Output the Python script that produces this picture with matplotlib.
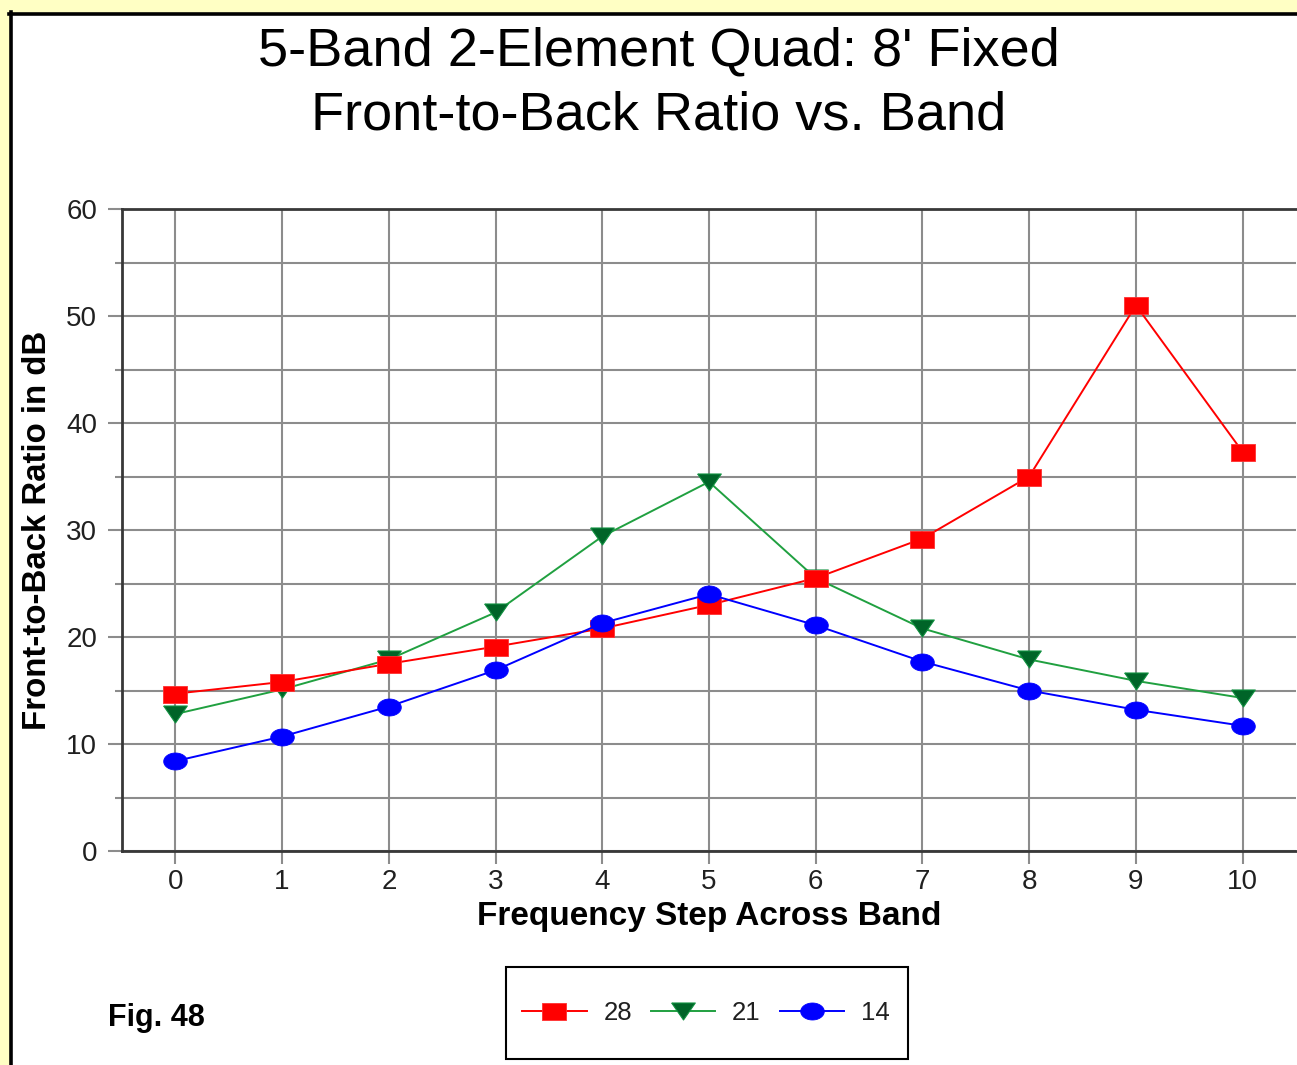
import numpy as np
import matplotlib
matplotlib.use('Agg')
import matplotlib.pyplot as plt
from matplotlib.lines import Line2D
from matplotlib.patches import Rectangle

# datos
steps = list(range(11))
ftb_28 = [14.7, 15.8, 17.5, 19.1, 20.8, 23.0, 25.5, 29.2, 35.0, 51.0, 37.3]
ftb_21 = [12.8, 15.1, 17.9, 22.3, 29.4, 34.5, 25.5, 20.8, 17.9, 15.9, 14.3]
ftb_14 = [8.4, 10.7, 13.5, 16.9, 21.3, 24.0, 21.1, 17.7, 15.0, 13.2, 11.7]
band_labels = ['28', '21', '14']

W, H = 1297, 1065
plt.rcParams['font.family'] = ['Liberation Sans', 'DejaVu Sans']

fig = plt.figure(figsize=(W/100, H/100), dpi=100, facecolor='#FFFFC4')

def fx(px):
    return px / W

def fy(py):
    return 1 - py / H

# fondo blanco con borde negro arriba e izquierda
fig.patches.append(Rectangle((fx(11), 0), 1, fy(14), transform=fig.transFigure,
                             facecolor='white', edgecolor='none', zorder=0))
fig.lines.append(Line2D([fx(10.5), fx(10.5)], [0, fy(12)], transform=fig.transFigure,
                        color='black', lw=2.6))
fig.lines.append(Line2D([fx(9), 1], [fy(14), fy(14)], transform=fig.transFigure,
                        color='black', lw=2.6))

ax = fig.add_axes([fx(122), fy(851), fx(1296) - fx(122), fy(209) - fy(851)])
ax.set_zorder(3)
ax.set_facecolor('white')

# marcadores un poco achatados
rect = [(-1, -0.72), (1, -0.72), (1, 0.72), (-1, 0.72), (-1, -0.72)]
tri = [(-1, 0.72), (1, 0.72), (0, -0.72), (-1, 0.72)]
t = np.linspace(0, 2*np.pi, 40)
ell = list(zip(np.cos(t), 0.72*np.sin(t)))

h28, = ax.plot(steps, ftb_28, color='#FF0000', lw=1.4, marker=rect, markersize=17,
               markerfacecolor='#FF0000', markeredgecolor='#FF3030', markeredgewidth=0.6, zorder=5)
h21, = ax.plot(steps, ftb_21, color='#20A040', lw=1.4, marker=tri, markersize=17,
               markerfacecolor='#006428', markeredgecolor='#109040', markeredgewidth=0.8, zorder=4)
h14, = ax.plot(steps, ftb_14, color='#0000FF', lw=1.4, marker=ell, markersize=17,
               markerfacecolor='#0000FF', markeredgecolor='#0000FF', markeredgewidth=0.6, zorder=6)

ax.set_xlim(-0.5, 10.5)
ax.set_ylim(0, 60)
ax.set_xticks(steps)
ax.set_yticks(np.arange(0, 61, 10))
ax.set_yticks(np.arange(5, 60, 10), minor=True)
ax.grid(True, which='both', color='#8C8C8C', lw=1.5, zorder=1)
ax.set_axisbelow(True)

for s in ['left', 'bottom', 'top']:
    ax.spines[s].set_color('#383838')
    ax.spines[s].set_linewidth(2.0)
ax.spines['right'].set_visible(False)

ax.tick_params(axis='both', which='major', color='#8C8C8C', width=1.5, labelsize=20,
               labelcolor='#202020')
ax.tick_params(axis='y', which='major', length=10, pad=8)
ax.tick_params(axis='y', which='minor', length=5, color='#8C8C8C', width=1.5)
ax.tick_params(axis='x', which='major', length=9, pad=4)

ax.set_xlabel('Frequency Step Across Band', fontsize=24, fontweight='bold', labelpad=4)
fig.text(fx(38), fy(530), 'Front-to-Back Ratio in dB', rotation=90, fontsize=23.8,
         fontweight='bold', ha='center', va='center')

fig.text(fx(659), fy(51), "5-Band 2-Element Quad: 8' Fixed", fontsize=39,
         ha='center', va='center')
fig.text(fx(659), fy(116), 'Front-to-Back Ratio vs. Band', fontsize=39,
         ha='center', va='center')

fig.text(fx(108), fy(1018), 'Fig. 48', fontsize=22, fontweight='bold',
         ha='left', va='center')

# leyenda
fig.patches.append(Rectangle((fx(506), fy(1059)), fx(908) - fx(506), fy(967) - fy(1059),
                             transform=fig.transFigure, facecolor='white',
                             edgecolor='black', lw=1.5, zorder=2))
leg = fig.legend([h28, h21, h14], band_labels, loc='center',
                 bbox_to_anchor=(fx(706), fy(1013)), ncol=3, frameon=False,
                 fontsize=18.5, handlelength=2.5, handletextpad=0.65, columnspacing=0.75)
for txt in leg.get_texts():
    txt.set_color('#202020')

plt.savefig('out.png', dpi=100, facecolor=fig.get_facecolor())
